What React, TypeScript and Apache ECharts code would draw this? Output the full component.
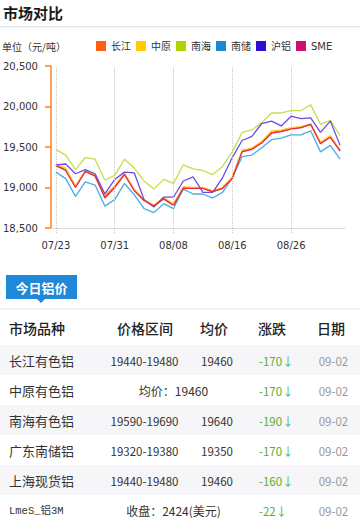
import React, { useEffect, useRef } from 'react';
import * as echarts from 'echarts';

// ---------- chart data ----------
const dates = [
  '07/23', '07/24', '07/26', '07/27', '07/28', '07/30', '07/31', '08/02', '08/03', '08/04',
  '08/05', '08/06', '08/08', '08/09', '08/10', '08/11', '08/12', '08/13', '08/16', '08/17',
  '08/18', '08/20', '08/23', '08/24', '08/26', '08/27', '08/30', '08/31', '09/01', '09/02',
];
const gridDates = ['07/23', '07/31', '08/08', '08/16', '08/26'];
const seriesNames = ['长江', '中原', '南海', '南储', '沪铝', 'SME'];

const changjiang = [19280, 19220, 19010, 19200, 19150, 18890, 19010, 19170, 18970, 18840, 18780, 18860, 18780, 19000, 18990, 18990, 18950, 18990, 19120, 19450, 19480, 19560, 19680, 19700, 19730, 19740, 19780, 19550, 19630, 19460];
const zhongyuan = [19290, 19240, 19020, 19210, 19160, 18910, 19020, 19180, 18980, 18850, 18780, 18880, 18800, 19010, 19000, 19000, 18960, 19000, 19130, 19460, 19490, 19570, 19700, 19710, 19740, 19750, 19790, 19560, 19640, 19460];
const nanhai = [19470, 19400, 19220, 19370, 19350, 19090, 19150, 19350, 19240, 19080, 18980, 19100, 19050, 19280, 19230, 19210, 19160, 19260, 19440, 19680, 19710, 19800, 19920, 19920, 19950, 19950, 20020, 19780, 19830, 19640];
const nanchu = [19190, 19110, 18890, 19070, 19030, 18770, 18850, 19050, 18910, 18740, 18690, 18800, 18740, 18980, 18920, 18920, 18870, 18940, 19120, 19380, 19400, 19490, 19590, 19610, 19650, 19650, 19700, 19440, 19520, 19350];
const hulv = [19280, 19290, 19170, 19220, 19170, 18920, 19100, 19190, 19180, 18850, 18760, 18880, 18880, 19080, 19130, 18940, 18940, 19120, 19370, 19580, 19630, 19790, 19820, 19760, 19880, 19850, 19860, 19680, 19820, 19520];
const sme = [19270, 19210, 19000, 19200, 19140, 18870, 19000, 19160, 18960, 18840, 18770, 18860, 18780, 18990, 18990, 18990, 18950, 18990, 19110, 19440, 19470, 19550, 19670, 19690, 19720, 19740, 19780, 19540, 19620, 19450];

const yMin = 18500;
const yMax = 20500;
const yStep = 500;

// ---------- table data ----------
const tableHeaders = ['市场品种', '价格区间', '均价', '涨跌', '日期'];
const markets = ['长江有色铝', '中原有色铝', '南海有色铝', '广东南储铝', '上海现货铝', 'LmeS_铝3M'];
const ranges = ['19440-19480', '均价：19460', '19590-19690', '19320-19380', '19440-19480', '收盘：2424(美元)'];
const averages = ['19460', '', '19640', '19350', '19460', ''];
const changes = ['-170', '-170', '-190', '-170', '-160', '-22'];
const tradeDates = ['09-02', '09-02', '09-02', '09-02', '09-02', '09-02'];

const legendColors = ['#ff6010', '#ffcc00', '#add600', '#1a88d0', '#2a10d0', '#cc1070'];
const lineColors = ['#ff6a1a', '#ffc933', '#c2e04c', '#4aaee2', '#6a4de8', '#e52a45'];

const CJK = '"Noto Sans CJK SC", sans-serif';
const NUM = '"DejaVu Sans", "Noto Sans CJK SC", sans-serif';

function buildGraphics() {
  const g: any[] = [];
  g.push({ type: 'text', x: 3, y: 12, style: { text: '市场对比', fill: '#1a1a1a', font: `bold 15px ${CJK}`, textVerticalAlign: 'middle' } });
  g.push({ type: 'rect', shape: { x: 0, y: 26, width: 360, height: 1.5 }, style: { fill: '#e8e8e8' } });
  g.push({ type: 'text', x: 2, y: 46, style: { text: '单位（元/吨）', fill: '#333', font: `10px ${CJK}`, textVerticalAlign: 'middle' } });

  // tab
  g.push({ type: 'rect', shape: { x: 6, y: 275, width: 71, height: 24 }, style: { fill: '#2088d8' } });
  g.push({ type: 'polygon', shape: { points: [[37, 299], [45, 299], [41, 303]] }, style: { fill: '#2088d8' } });
  g.push({ type: 'text', x: 41.5, y: 287, style: { text: '今日铝价', fill: '#fff', font: `bold 13px ${CJK}`, textAlign: 'center', textVerticalAlign: 'middle' } });
  g.push({ type: 'rect', shape: { x: 0, y: 308.5, width: 360, height: 1 }, style: { fill: '#e4e4e4' } });

  const headerX = [9, 145, 214, 272, 331];
  const headerAlign = ['left', 'center', 'center', 'center', 'center'];
  tableHeaders.forEach((h, i) => {
    g.push({ type: 'text', x: headerX[i], y: 328, style: { text: h, fill: '#222', font: `500 14px ${CJK}`, textAlign: headerAlign[i], textVerticalAlign: 'middle' } });
  });

  markets.forEach((m, i) => {
    const top = 345 + i * 30;
    const cy = top + 15.5;
    if (i % 2 === 0) {
      g.push({ type: 'rect', shape: { x: 0, y: top, width: 360, height: 30 }, style: { fill: '#f6f6f8' } });
    }
    const isLme = m.startsWith('Lme');
    g.push({ type: 'text', x: 9, y: cy, style: { text: m, fill: '#333', font: isLme ? `10.5px "Liberation Mono", ${CJK}` : `13px ${CJK}`, textVerticalAlign: 'middle' } });
    if (averages[i]) {
      g.push({ type: 'text', x: 144.5, y: cy, style: { text: ranges[i], fill: '#333', font: `11.5px ${CJK}`, textAlign: 'center', textVerticalAlign: 'middle' } });
      g.push({ type: 'text', x: 217, y: cy, style: { text: averages[i], fill: '#333', font: `11.5px ${CJK}`, textAlign: 'center', textVerticalAlign: 'middle' } });
    } else {
      g.push({ type: 'text', x: 173.5, y: cy, style: { text: ranges[i], fill: '#333', font: `12px ${CJK}`, textAlign: 'center', textVerticalAlign: 'middle' } });
    }
    g.push({ type: 'text', x: 259, y: cy, style: { text: changes[i] + '↓', fill: '#5aae2c', font: `11.5px ${CJK}`, textVerticalAlign: 'middle' } });
    g.push({ type: 'text', x: 333.5, y: cy, style: { text: tradeDates[i], fill: '#999', font: `11.5px ${CJK}`, textAlign: 'center', textVerticalAlign: 'middle' } });
  });
  return g;
}

export default function App() {
  const ref = useRef<HTMLDivElement>(null);
  useEffect(() => {
    const chart = echarts.init(ref.current!, null, { renderer: 'svg', width: 360, height: 524 });
    const values = [changjiang, zhongyuan, nanhai, nanchu, hulv, sme];
    const series: any[] = values.map((data, i) => ({
      name: seriesNames[i],
      type: 'line',
      data,
      showSymbol: false,
      symbol: 'none',
      itemStyle: { color: legendColors[i] },
      lineStyle: { color: lineColors[i], width: 1.3 },
      z: 3,
    }));
    series.push({
      type: 'line',
      data: [],
      z: 1,
      silent: true,
      markLine: {
        symbol: 'none',
        silent: true,
        label: { show: false },
        lineStyle: { color: '#c8c8c8', type: 'dotted', width: 1 },
        data: gridDates.map((d) => ({ xAxis: d })),
      },
    });
    chart.setOption({
      animation: false,
      backgroundColor: '#fff',
      textStyle: { fontFamily: NUM },
      legend: {
        data: seriesNames,
        left: 96,
        top: 41,
        icon: 'rect',
        itemWidth: 10,
        itemHeight: 10,
        itemGap: 5,
        padding: 0,
        textStyle: { fontSize: 10, color: '#333', fontFamily: NUM },
      },
      grid: { left: 49, right: 15, top: 66, bottom: 296, containLabel: false },
      xAxis: {
        type: 'category',
        data: dates,
        boundaryGap: true,
        axisLine: { lineStyle: { color: '#dcdcdc' } },
        axisTick: { show: true, alignWithLabel: true, interval: 5, length: 5, lineStyle: { color: '#c8c8c8', type: 'dotted' } },
        axisLabel: { interval: 5, color: '#333', fontSize: 10, margin: 12, fontFamily: NUM },
        splitLine: { show: false },
      },
      yAxis: {
        type: 'value',
        min: yMin,
        max: yMax,
        interval: yStep,
        axisLine: { show: true, lineStyle: { color: '#ff7f27', width: 1.5 } },
        axisTick: { show: true, length: 6, lineStyle: { color: '#ff7f27', width: 1.5 } },
        axisLabel: {
          color: '#333',
          fontSize: 10,
          margin: 13,
          fontFamily: NUM,
          formatter: (v: number) => v.toLocaleString('en-US'),
        },
        splitLine: { show: false },
      },
      series,
      graphic: { elements: buildGraphics() },
    });
    return () => chart.dispose();
  }, []);
  return (
    <div
      ref={ref}
      style={{ position: 'absolute', left: 0, top: 0, width: 360, height: 524, background: '#fff' }}
    />
  );
}
